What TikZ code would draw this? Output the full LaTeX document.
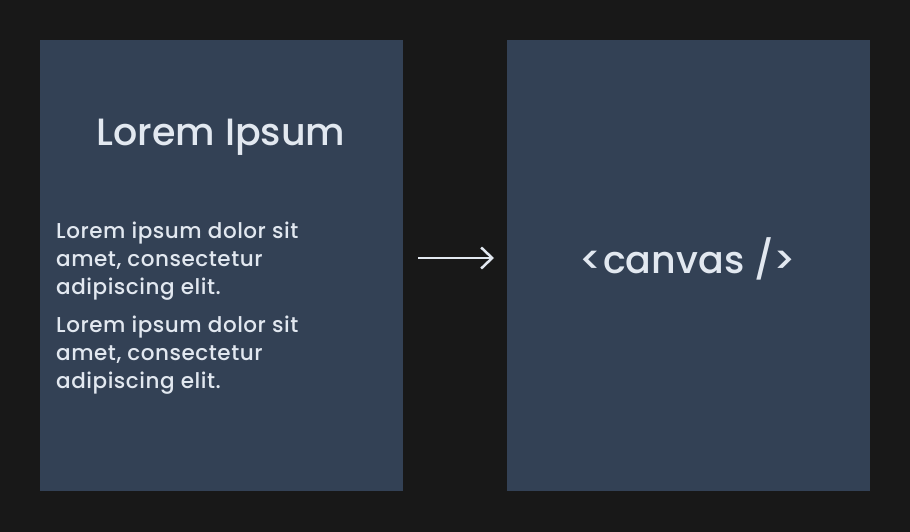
\documentclass[tikz,border=0pt]{standalone}
\usepackage{fontspec}
\setmainfont{Poppins}[UprightFont={* Medium}]
\usetikzlibrary{positioning,arrows.meta}

\definecolor{bg}{HTML}{181818}
\definecolor{panel}{HTML}{334155}
\definecolor{ink}{HTML}{E2E8F0}

\newfontfamily\bodyfont{Poppins}[UprightFont={* Medium}, LetterSpace=2.5]

\tikzset{
  panelbox/.style={fill=panel, minimum width=363pt, minimum height=451pt, anchor=north west, inner sep=0pt},
  bodytext/.style={text=ink, font=\bodyfont\fontsize{21.5}{28}\selectfont, align=left, anchor=base west, inner sep=0pt},
  headtext/.style={text=ink, font=\fontsize{38}{44}\selectfont, anchor=base},
}

\begin{document}
\begin{tikzpicture}[x=1pt,y=-1pt]
  \fill[bg] (0,0) rectangle (910,532);
  \useasboundingbox (0,0) rectangle (910,532);

  \node[panelbox] (left) at (40,40) {};
  \node[panelbox] (right) at (507,40) {};

  \node[headtext] (title) at (221,146) {Lorem Ipsum};

  % base anchor sits on the last line
  \node[bodytext] (para1) at (56,294) {Lorem ipsum dolor sit\\amet, consectetur\\adipiscing elit.};
  \node[bodytext] (para2) at (56,388) {Lorem ipsum dolor sit\\amet, consectetur\\adipiscing elit.};

  \node[headtext] (canvas) at (688,273) {<canvas />};

  \coordinate (arr) at (0,258);
  \draw[ink, line width=2.5pt, -{Straight Barb[length=11pt,width=21pt,line width=2.5pt]}, shorten <=15pt, shorten >=13pt]
    (left.east |- arr) -- (right.west |- arr);

\end{tikzpicture}
\end{document}
